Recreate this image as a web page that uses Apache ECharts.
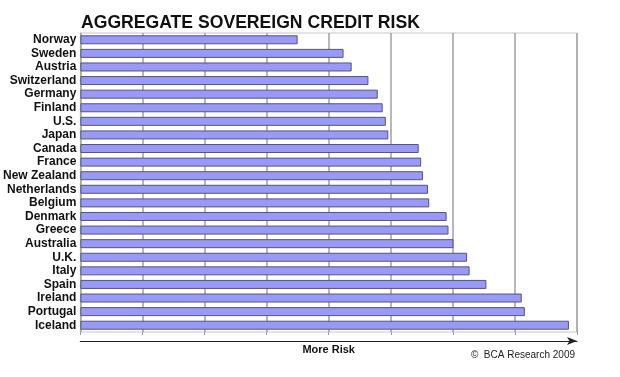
<!DOCTYPE html>
<html>
<head>
<meta charset="utf-8">
<script src="https://cdn.jsdelivr.net/npm/echarts@6/dist/echarts.min.js"></script>
<style>
  html, body { margin: 0; padding: 0; background: #fff; }
  #chart { width: 620px; height: 377px; }
</style>
</head>
<body>
<div id="chart"></div>
<script>
// countries, least risky first
const countries = [
  'Norway', 'Sweden', 'Austria', 'Switzerland', 'Germany', 'Finland', 'U.S.',
  'Japan', 'Canada', 'France', 'New Zealand', 'Netherlands', 'Belgium',
  'Denmark', 'Greece', 'Australia', 'U.K.', 'Italy', 'Spain', 'Ireland',
  'Portugal', 'Iceland'
]
// aggregate risk score (unitless)
const riskScores = [
  3.50, 4.24, 4.37, 4.64, 4.79, 4.87, 4.92,
  4.96, 5.45, 5.49, 5.52, 5.60, 5.62,
  5.90, 5.93, 6.01, 6.23, 6.27, 6.54, 7.11,
  7.16, 7.87
]
const axisMin = 0
const axisMax = 8
const axisStep = 1

const font = '"Liberation Sans", Arial, sans-serif'

const chart = echarts.init(document.getElementById('chart'))

chart.setOption({
  animation: false,
  backgroundColor: '#fff',
  title: {
    text: 'AGGREGATE SOVEREIGN CREDIT RISK',
    left: 76,
    top: 9,
    textStyle: {
      fontFamily: font,
      fontSize: 17.6,
      fontWeight: 'bold',
      color: '#111',
    },
  },
  grid: {
    left: 80,
    right: 43,
    top: 33,
    bottom: 45,
    show: true,
    borderColor: '#c8c8c8',
    borderWidth: 1,
  },
  xAxis: [
    {
      type: 'value',
      min: axisMin,
      max: axisMax,
      interval: axisStep,
      axisLabel: { show: false },
      axisLine: { show: false },
      axisTick: {
        show: true,
        inside: false,
        length: 3,
        lineStyle: { color: '#999' },
      },
      splitLine: {
        show: true,
        lineStyle: { color: '#a0a0a0', width: 1.5 },
      },
    },
    {
      type: 'value',
      position: 'bottom',
      offset: 9,
      min: axisMin,
      max: axisMax,
      axisLabel: { show: false },
      axisTick: { show: false },
      splitLine: { show: false },
      axisLine: {
        show: true,
        symbol: ['none', 'arrow'],
        symbolSize: [6, 10],
        lineStyle: { color: '#222', width: 1.2 },
      },
      name: 'More Risk',
      nameLocation: 'middle',
      nameGap: 3,
      nameTextStyle: {
        fontFamily: font,
        fontSize: 11,
        fontWeight: 'bold',
        color: '#111',
        verticalAlign: 'top',
      },
    },
  ],
  yAxis: {
    type: 'category',
    inverse: true,
    data: countries,
    axisLine: { show: true, lineStyle: { color: '#aaa' } },
    axisTick: { show: false },
    axisLabel: {
      interval: 0,
      margin: 4,
      fontFamily: font,
      fontSize: 12,
      fontWeight: 'bold',
      color: '#111',
    },
  },
  series: [
    {
      type: 'bar',
      data: riskScores,
      barWidth: 9,
      itemStyle: {
        color: '#9999f8',
        borderColor: '#55557a',
        borderWidth: 1,
      },
    },
  ],
  graphic: [
    {
      type: 'text',
      right: 45,
      top: 350,
      style: {
        text: '©  BCA Research 2009',
        fontFamily: font,
        fontSize: 10,
        fill: '#222',
      },
    },
  ],
})
</script>
</body>
</html>
